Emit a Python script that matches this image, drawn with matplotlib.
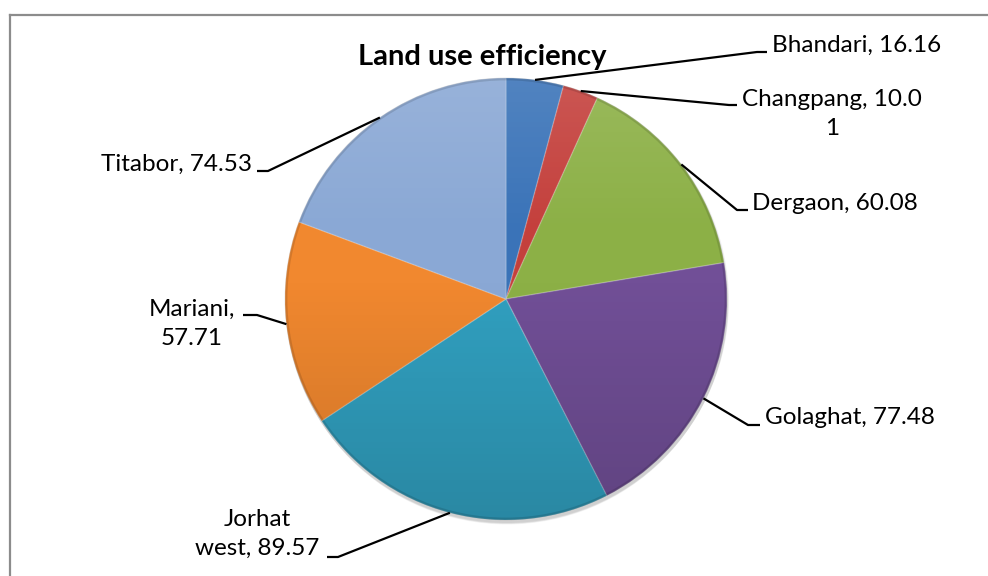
import numpy as np
import matplotlib
matplotlib.use("Agg")
import matplotlib.pyplot as plt
from matplotlib.patches import Circle

plt.rcParams['font.family'] = ['Lato', 'DejaVu Sans']

# Data
districts = ["Bhandari", "Changpang", "Dergaon", "Golaghat", "Jorhat west", "Mariani", "Titabor"]
efficiency = [16.16, 10.01, 60.08, 77.48, 89.57, 57.71, 74.53]
label_texts = ["Bhandari, 16.16", "Changpang, 10.0\n1", "Dergaon, 60.08", "Golaghat, 77.48",
               "Jorhat\nwest, 89.57", "Mariani,\n57.71", "Titabor, 74.53"]
title = "Land use efficiency"

colors = ["#3a73b8", "#c4403c", "#8cb046", "#714f97", "#31a0c0", "#f1882f", "#8aa8d5"]

W, H = 988, 576
fig = plt.figure(figsize=(W / 100, H / 100), dpi=100)
ax = fig.add_axes([0, 0, 1, 1])

def py(y):
    """Convert a top-down pixel row to axes y."""
    return H - y

cx, cy, R = 506, py(299), 221

# soft drop shadow under the pie
for i, a in enumerate([0.05, 0.05, 0.05, 0.04]):
    ax.add_patch(Circle((cx + 1, cy - 2 - i), R + 1 - i * 0.5, color="black", alpha=a, zorder=0.5, lw=0))

wedges, _ = ax.pie(efficiency, colors=colors, startangle=90, counterclock=False,
                   center=(cx, cy), radius=R,
                   wedgeprops=dict(edgecolor=(1, 1, 1, 0.18), linewidth=1.0))
for w in wedges:
    w.set_zorder(1)

# vertical light-to-dark shading across the pie
n = 256
t = np.linspace(0, 1, n)[:, None]
grad = np.zeros((n, 1, 4))
top = np.clip(0.35 - t, 0, None) / 0.35
bot = np.clip(t - 0.45, 0, None) / 0.55
grad[..., :3] = np.where(top > 0, 1.0, 0.0)[..., None] * np.ones(3)
grad[..., 3] = top * 0.12 + bot * 0.15
img = ax.imshow(grad, extent=(cx - R, cx + R, cy - R, cy + R), origin="upper",
                aspect="auto", zorder=2, interpolation="bilinear")
clip = Circle((cx, cy), R, transform=ax.transData)
img.set_clip_path(clip)
ax.add_patch(Circle((cx, cy), R - 1, fill=False, ec=(0, 0, 0, 0.12), lw=2, zorder=2.5))

# leader-line elbows, horizontal ends and label anchors (pixel rows from top)
elbows = [(757, 52), (729, 105), (737, 210), (748, 425), (338, 557), (257, 315), (268, 171)]
ends = [767, 737, 748, 760, 327, 243, 257]
anchors = [(772, 45, "left"), (832, 114, "center"), (752, 203, "left"), (765, 418, "left"),
           (257, 534, "center"), (192, 324, "center"), (252, 164, "right")]

for w, lab, (ex, ey), endx, (tx, ty, ha) in zip(wedges, label_texts, elbows, ends, anchors):
    ang = np.deg2rad((w.theta1 + w.theta2) / 2)
    px, pyy = cx + R * np.cos(ang), cy + R * np.sin(ang)
    ax.plot([px, ex, endx], [pyy, py(ey), py(ey)], color="black", lw=1.6, zorder=3,
            solid_capstyle="butt")
    ax.text(tx, py(ty), lab, ha=ha, va="center", fontsize=17.5, color="black",
            multialignment="center", linespacing=1.5, zorder=4)

ax.text(482, py(57), title, ha="center", va="center", fontsize=21, fontweight="bold", zorder=4)

# chart-area frame (top and left edges)
ax.plot([10, W], [py(15), py(15)], color="#8c8c8c", lw=1.6, zorder=5)
ax.plot([10, 10], [py(15), 0], color="#8c8c8c", lw=1.6, zorder=5)

ax.set_xlim(0, W)
ax.set_ylim(0, H)
ax.set_aspect("auto")
ax.axis("off")

fig.savefig("out.png", dpi=100)
